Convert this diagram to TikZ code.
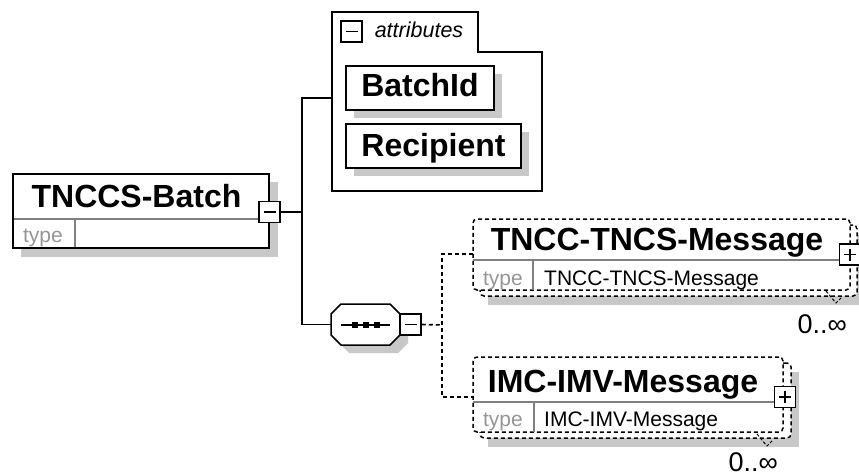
\documentclass[tikz,border=0pt]{standalone}
\usepackage{fontspec}
\setmainfont{Liberation Sans}
\usetikzlibrary{fit}
\definecolor{shd}{RGB}{200,200,200}
\definecolor{typegray}{RGB}{150,150,150}
\definecolor{divgray}{RGB}{128,128,128}
\tikzset{
  elbox/.style={draw=black, fill=white, line width=1.5pt, rectangle, inner sep=0pt},
  dashbox/.style={draw=black, fill=white, dash pattern=on 4pt off 3pt, line width=1.5pt, rounded corners=4pt, rectangle, inner sep=0pt},
  shadowbox/.style={fill=shd, draw=none, rectangle, inner sep=0pt},
  titletxt/.style={font=\bfseries\fontsize{32}{36}\selectfont, anchor=base, inner sep=0pt},
  valtxt/.style={font=\fontsize{21}{24}\selectfont, anchor=base west, inner sep=0pt},
  typelbl/.style={font=\fontsize{21}{24}\selectfont, text=typegray, anchor=base, inner sep=0pt},
  occtxt/.style={font=\fontsize{27}{30}\selectfont, anchor=base east, inner sep=0pt},
  divider/.style={draw=divgray, line width=1.2pt},
  pmbox/.style={draw=black, fill=white, minimum size=21pt, inner sep=0pt, line width=1.5pt, rectangle},
  pmsign/.style={draw=black, line width=1.3pt},
  conn/.style={draw=black, line width=1.6pt},
  dconn/.style={conn, dash pattern=on 4pt off 3pt},
  tick/.style={draw=black, line width=1pt, dash pattern=on 3pt off 2pt},
}
\begin{document}
\begin{tikzpicture}[x=1pt,y=-1pt]
\useasboundingbox (0,0) rectangle (859,476);
\clip (0,0) rectangle (859,476);

% ---------- TNCCS-Batch ----------
\node[shadowbox, fit={(21,182) (278,257)}] (batchsh) {};
\node[elbox, fit={(13,174) (269,248)}] (batch) {};
\draw[divider] (13,219) -- (269,219);
\draw[divider] (75,219) -- (75,248);
\draw[line width=1.5pt] (13,174) rectangle (269,248);
\node[titletxt] (batchname) at (136.5,207) {TNCCS-Batch};
\node[typelbl] (batchtype) at (43,242) {type};
\node[pmbox] (batchmin) at (269.5,212) {};
\draw[pmsign] ([xshift=-6pt]batchmin.center) -- ([xshift=6pt]batchmin.center);

% ---------- attributes group ----------
\node[fit={(332,12) (542,191)}, inner sep=0pt] (attr) {};
\draw[line width=1.5pt, fill=white] (332,12) -- (478,12) -- (478,52) -- (542,52) -- (542,191) -- (332,191) -- cycle;
\node[pmbox] (attrmin) at (351.5,31.5) {};
\draw[pmsign] ([xshift=-6pt]attrmin.center) -- ([xshift=6pt]attrmin.center);
\node[font=\itshape\fontsize{21.5}{24}\selectfont, anchor=base, inner sep=0pt] (attrlbl) at (419,38) {attributes};
\coordinate (attrL) at (332,98);

\node[shadowbox, fit={(354,74) (502,118)}] (batchidsh) {};
\node[elbox, fit={(346,66) (494,110)}] (batchid) {};
\node[titletxt] (batchidtxt) at (420,97) {BatchId};
\node[shadowbox, fit={(354,132) (529,176)}] (recipsh) {};
\node[elbox, fit={(346,124) (521,168)}] (recip) {};
\node[titletxt] (reciptxt) at (433.5,157) {Recipient};

% ---------- sequence compositor ----------
\node[fit={(331,304) (400,345)}, inner sep=0pt] (seq) {};
\fill[shd] (349,312) -- (398,312) -- (408,322) -- (408,343) -- (398,353) -- (349,353) -- (339,343) -- (339,322) -- cycle;
\draw[line width=1.5pt, fill=white] (341,304) -- (390,304) -- (400,314) -- (400,335) -- (390,345) -- (341,345) -- (331,335) -- (331,314) -- cycle;
\draw[line width=1.3pt] (341,325) -- (390,325);
\fill (352,322) rectangle (358,328);
\fill (363,322) rectangle (369,328);
\fill (374,322) rectangle (380,328);
\node[pmbox] (seqmin) at (410.5,324.5) {};
\draw[pmsign] ([xshift=-6pt]seqmin.center) -- ([xshift=6pt]seqmin.center);

% ---------- TNCC-TNCS-Message ----------
\node[shadowbox, fit={(488,234) (865,305)}] (tnccsh) {};
\node[dashbox, fit={(480,225) (857,296)}] (tnccback) {};
\node[dashbox, fit={(473,219) (850,290)}] (tncc) {};
\draw[divider] (473,260) -- (850,260);
\draw[divider] (533,260) -- (533,290);
\node[titletxt] (tnccname) at (657,250) {TNCC-TNCS-Message};
\node[typelbl] (tncctype) at (503,285) {type};
\node[valtxt] (tnccval) at (544,285) {TNCC-TNCS-Message};
\node[pmbox] (tnccplus) at (850,254.5) {};
\draw[pmsign] ([xshift=-6pt]tnccplus.center) -- ([xshift=6pt]tnccplus.center);
\draw[pmsign] ([yshift=-6pt]tnccplus.center) -- ([yshift=6pt]tnccplus.center);
\draw[tick] (826,291) -- (836,303) -- (841,298);
\node[occtxt] (tnccocc) at (847,333) {0..∞};
\coordinate (tnccL) at (473,254);

% ---------- IMC-IMV-Message ----------
\node[shadowbox, fit={(488,372) (799,447)}] (imcsh) {};
\node[dashbox, fit={(480,363) (791,438)}] (imcback) {};
\node[dashbox, fit={(473,357) (783,432)}] (imc) {};
\draw[divider] (473,402) -- (783,402);
\draw[divider] (534,402) -- (534,432);
\node[titletxt] (imcname) at (623,392) {IMC-IMV-Message};
\node[typelbl] (imctype) at (503,426) {type};
\node[valtxt] (imcval) at (544,426) {IMC-IMV-Message};
\node[pmbox] (imcplus) at (785,397) {};
\draw[pmsign] ([xshift=-6pt]imcplus.center) -- ([xshift=6pt]imcplus.center);
\draw[pmsign] ([yshift=-6pt]imcplus.center) -- ([yshift=6pt]imcplus.center);
\draw[tick] (757,434) -- (767,446) -- (772,441);
\node[occtxt] (imcocc) at (778,471) {0..∞};
\coordinate (imcL) at (473,397);

% ---------- connectors ----------
\coordinate (bus) at (302,212);
\coordinate (dbus) at (442,325);
\draw[conn] (batchmin.east) -- (bus);
\draw[conn] (attrL) -| (bus) |- (seq.west);
\draw[dconn] (seqmin.east) -- (dbus);
\draw[dconn] (tnccL) -| (dbus) |- (imcL);
\end{tikzpicture}
\end{document}
